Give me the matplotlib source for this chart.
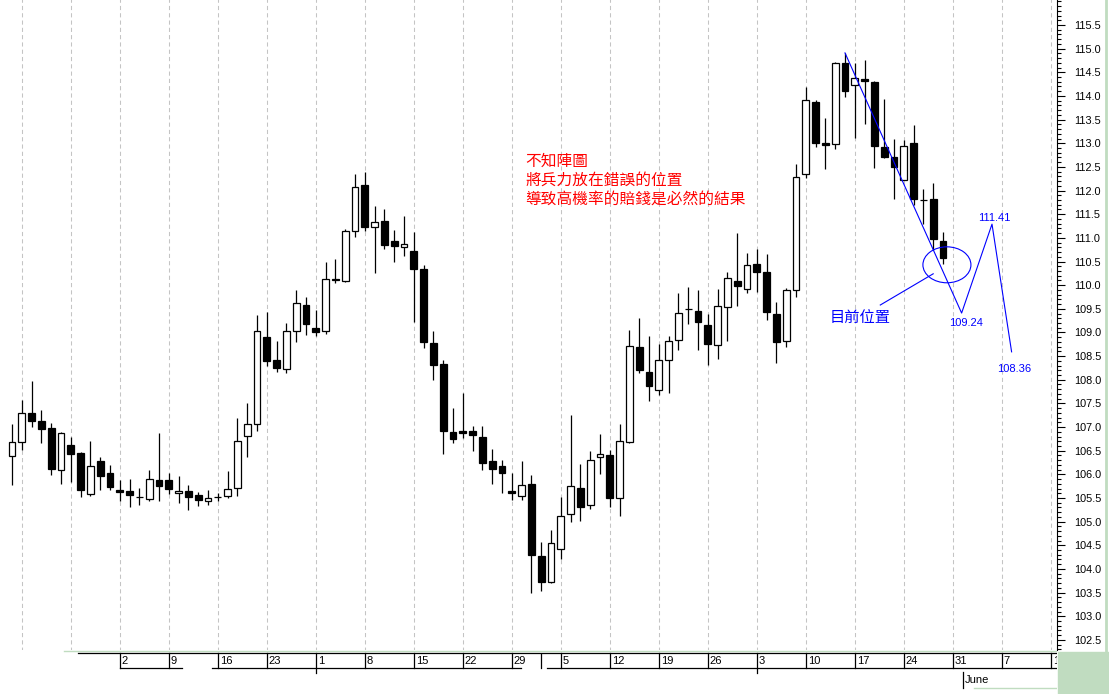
import numpy as np
import matplotlib.pyplot as plt
from matplotlib.patches import Ellipse, Rectangle
from matplotlib.lines import Line2D

# daily candles (one per trading day)
opens = [106.39, 106.68, 107.30, 107.13, 106.98, 106.09, 106.62, 106.45, 105.58, 106.28,
         106.03, 105.67, 105.65, 105.52, 105.48, 105.88, 105.88, 105.61, 105.65, 105.56,
         105.44, 105.52, 105.54, 105.71, 106.81, 107.06, 108.90, 108.42, 108.23, 109.03,
         109.58, 109.09, 109.03, 110.13, 110.09, 111.14, 112.12, 111.23, 111.36, 110.93,
         110.81, 110.72, 110.34, 108.78, 108.33, 106.90, 106.92, 106.92, 106.79, 106.28,
         106.18, 105.65, 105.54, 105.80, 104.27, 103.72, 104.42, 105.16, 105.71, 105.35,
         106.37, 106.41, 105.50, 106.68, 108.69, 108.16, 107.78, 108.42, 108.84, 109.50,
         109.45, 109.16, 108.73, 109.54, 110.09, 109.92, 110.45, 110.28, 109.39, 108.82,
         109.90, 112.35, 113.87, 113.01, 112.98, 114.70, 114.23, 114.36, 114.29, 112.92,
         112.71, 112.22, 113.01, 111.80, 111.82, 110.93]
highs = [107.06, 107.57, 107.97, 107.36, 107.09, 106.90, 106.79, 106.47, 106.71, 106.37,
         106.20, 105.88, 105.90, 105.71, 106.09, 106.87, 106.03, 105.97, 105.77, 105.63,
         105.67, 105.61, 106.07, 107.19, 107.51, 109.37, 109.43, 108.82, 109.20, 109.90,
         109.75, 109.47, 110.49, 110.55, 111.19, 112.35, 112.39, 111.67, 111.61, 111.17,
         111.46, 111.12, 110.43, 109.03, 108.42, 107.40, 107.72, 107.02, 107.02, 106.54,
         106.30, 106.03, 106.28, 105.99, 104.57, 104.82, 105.52, 107.25, 106.22, 106.49,
         106.85, 106.51, 107.06, 109.05, 109.31, 108.93, 108.76, 108.93, 109.83, 109.96,
         109.90, 109.39, 109.92, 110.28, 111.10, 110.68, 110.76, 110.66, 109.64, 109.94,
         112.56, 114.19, 113.91, 113.53, 114.72, 114.91, 114.70, 114.76, 114.32, 113.94,
         113.09, 113.07, 113.39, 112.03, 112.16, 111.12]
lows = [105.77, 106.51, 107.00, 106.66, 105.99, 105.80, 105.84, 105.52, 105.54, 105.67,
        105.67, 105.44, 105.31, 105.35, 105.44, 105.44, 105.58, 105.39, 105.25, 105.33,
        105.35, 105.44, 105.50, 105.54, 106.37, 106.92, 108.29, 108.17, 108.14, 108.80,
        108.95, 108.93, 108.97, 110.05, 110.07, 111.02, 111.14, 110.26, 110.76, 110.49,
        110.62, 109.22, 108.67, 107.99, 106.43, 106.66, 106.77, 106.49, 106.09, 105.80,
        105.61, 105.46, 105.46, 103.49, 103.53, 103.70, 104.21, 104.99, 105.01, 105.27,
        106.01, 105.31, 105.12, 106.66, 108.14, 107.55, 107.68, 107.72, 108.63, 109.18,
        108.63, 108.31, 108.44, 108.82, 109.56, 109.83, 109.85, 109.26, 108.35, 108.69,
        109.75, 112.27, 112.92, 112.46, 112.88, 113.98, 113.11, 113.41, 112.48, 112.69,
        111.82, 112.22, 111.69, 111.29, 110.74, 110.45]
closes = [106.68, 107.30, 107.13, 106.96, 106.11, 106.87, 106.43, 105.67, 106.18, 105.97,
          105.73, 105.63, 105.56, 105.52, 105.90, 105.75, 105.69, 105.65, 105.52, 105.46,
          105.50, 105.52, 105.69, 106.71, 107.06, 109.03, 108.40, 108.25, 109.03, 109.62,
          109.18, 109.01, 110.13, 110.11, 111.14, 112.08, 111.23, 111.34, 110.85, 110.83,
          110.87, 110.34, 108.80, 108.31, 106.92, 106.75, 106.87, 106.83, 106.24, 106.11,
          106.03, 105.61, 105.77, 104.30, 103.72, 104.55, 105.12, 105.75, 105.31, 106.30,
          106.43, 105.50, 106.71, 108.71, 108.21, 107.87, 108.42, 108.82, 109.41, 109.50,
          109.22, 108.76, 109.56, 110.15, 109.98, 110.43, 110.28, 109.43, 108.80, 109.90,
          112.29, 113.91, 113.01, 112.96, 114.70, 114.10, 114.38, 114.32, 112.94, 112.71,
          112.50, 112.94, 111.82, 111.80, 110.98, 110.57]

# weekly date row (Mondays), first labelled week sits on candle 11
week_labels = ["2", "9", "16", "23", "1", "8", "15", "22", "29", "5",
               "12", "19", "26", "3", "10", "17", "24", "31", "7", "14"]

# blue projection drawn on the chart
zigzag_idx = [85.0, 96.9, 100.0, 102.0]
zigzag_price = [114.91, 109.41, 111.29, 108.59]
zigzag_labels = ["109.24", "111.41", "108.36"]

notes = ["不知陣圖", "將兵力放在錯誤的位置", "導致高機率的賠錢是必然的結果"]
marker_note = "目前位置"

W, H = 1109, 694
def fx(x):
    return x / W
def fy(y):
    return 1 - y / H

money_green = '#c0dcc0'
cjk = ['Noto Sans CJK TC', 'DejaVu Sans']

fig = plt.figure(figsize=(W / 100, H / 100), dpi=100)
ax = fig.add_axes([0, fy(650), fx(1057), 650 / H])

o = np.array(opens); h = np.array(highs); l = np.array(lows); c = np.array(closes)
idx = np.arange(len(o))

# weekly dashed grid
grid_idx = np.arange(1, 107, 5)
ax.vlines(grid_idx, 100, 120, color='#c4c4c4', lw=0.75, linestyle=(0, (4, 3)), zorder=1)

# candles
ax.vlines(idx, l, h, color='black', lw=0.9, zorder=2)
body_col = np.where(c > o, 'white', 'black')
body_h = np.maximum(np.abs(c - o), 0.004)
ax.bar(idx, body_h, bottom=np.minimum(o, c), width=0.71, color=body_col,
       edgecolor='black', linewidth=0.9, zorder=3)

# projection line, circle and pointer
ax.plot(zigzag_idx, zigzag_price, color='#0000ff', lw=0.8, zorder=4)
ax.add_patch(Ellipse((95.4, 110.43), 4.9, 0.76, fill=False, edgecolor='#0000ff', lw=0.8, zorder=4))
ax.plot([88.6, 94.0], [109.58, 110.24], color='#0000ff', lw=0.8, zorder=4)

ax.set_xlim(-12 / 9.8, (1057 - 12) / 9.8)
ax.set_ylim(115.5 - 625 / 47.3, 115.5 + 25 / 47.3)

ax.yaxis.tick_right()
ax.set_yticks(np.arange(102.5, 115.51, 0.5))
ax.set_yticks(np.arange(102.3, 116.01, 0.1), minor=True)
ax.yaxis.set_major_formatter(plt.FormatStrFormatter('%.1f'))
ax.tick_params(axis='y', which='major', length=6, width=0.8, pad=6, labelsize=7.8)
ax.tick_params(axis='y', which='minor', length=3, width=0.8)
for lab in ax.get_yticklabels():
    lab.set_family('Liberation Sans')
ax.set_xticks([])
for s in ['left', 'top', 'bottom']:
    ax.spines[s].set_visible(False)
ax.spines['right'].set_linewidth(0.8)

# texts
for k, line in enumerate(notes):
    fig.text(fx(525), fy(161 + 19 * k), line, color='#ff0000', fontsize=11.3,
             family=cjk, va='center', ha='left')
fig.text(fx(860), fy(318), marker_note, color='#0000ff', fontsize=11, family=cjk,
         va='center', ha='center')
for (x, y), t in zip([(966, 323), (994, 218), (1014, 369)], zigzag_labels):
    fig.text(fx(x), fy(y), t, color='#0000ff', fontsize=8, family='Liberation Sans',
             va='center', ha='center')

# date row underneath
ax2 = fig.add_axes([0, 0, fx(1057), 1])
ax2.set_xlim(ax.get_xlim())
ax2.set_ylim(H, 0)
ax2.axis('off')
ax2.patch.set_alpha(0)
x0 = ax2.get_xlim()[0]
def ix(px):
    return px / 9.8 + x0
ax2.plot([ix(64), ix(1057)], [650.5, 650.5], color=money_green, lw=1)
ax2.plot([ix(78), ix(1057)], [652.5, 652.5], color='black', lw=0.9)
for a, b in [(120, 182), (212, 521), (547, 1057)]:
    ax2.plot([ix(a), ix(b)], [668, 668], color='black', lw=0.9)
lab_idx = grid_idx[2:]
for gi, t in zip(lab_idx, week_labels):
    bottom = 673 if gi in (31, 76) else 668
    ax2.plot([gi, gi], [652.5, bottom], color='black', lw=0.9)
    ax2.text(gi + 0.2, 661, t, fontsize=8, family='Liberation Sans', va='center',
             ha='left', clip_on=True)
ax2.plot([54, 54], [654, 668], color='black', lw=0.9)
ax2.plot([97, 97], [672, 688], color='black', lw=0.9)
ax2.text(97.2, 680, 'June', fontsize=8, family='Liberation Sans', va='center', ha='left')
ax2.plot([ix(974), ix(1057)], [688, 688], color=money_green, lw=1)

# window chrome on the right
fig.patches.append(Rectangle((fx(1057.5), 0), fx(1109) - fx(1057.5), fy(652), color=money_green,
                             transform=fig.transFigure, figure=fig, zorder=0))
fig.lines.append(Line2D([fx(1106), fx(1106)], [fy(652), 1], color=money_green, lw=2,
                        transform=fig.transFigure, figure=fig))

fig.savefig('out.png', dpi=100)
